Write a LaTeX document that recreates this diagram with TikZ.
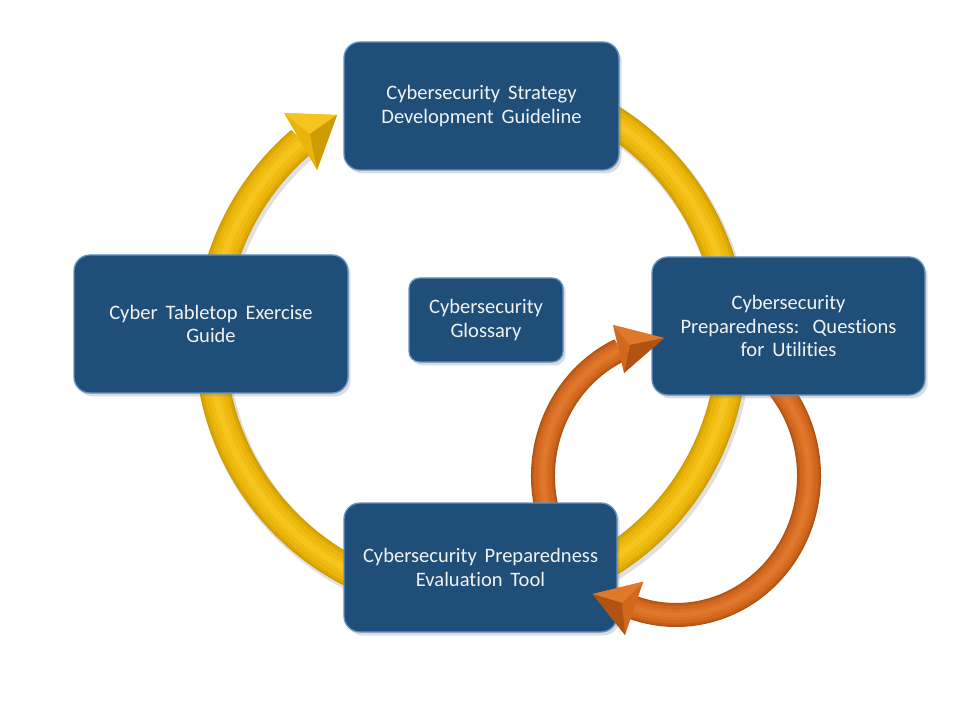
\documentclass[tikz,border=0pt]{standalone}
\usepackage{fontspec}
\setmainfont{Carlito}[WordSpace=1.7,Ligatures=NoCommon]
\usetikzlibrary{shadows,calc}
\definecolor{boxblue}{RGB}{31,78,121}
\definecolor{boxedge}{RGB}{96,146,196}
\definecolor{ytube}{RGB}{234,180,8}
\definecolor{ydark}{RGB}{206,156,0}
\definecolor{ylight}{RGB}{246,196,30}
\definecolor{otube}{RGB}{210,104,30}
\definecolor{odark}{RGB}{176,82,18}
\definecolor{olight}{RGB}{224,120,44}
\definecolor{txt}{RGB}{242,242,242}
\begin{document}
\begin{tikzpicture}[x=0.75pt,y=-0.75pt,
  card/.style={draw=boxedge, line width=1pt, fill=boxblue, rounded corners=12pt,
    inner sep=0pt, align=center, text=txt,
    font=\fontsize{15.4}{17.6}\selectfont,
    drop shadow={opacity=0.28, shadow xshift=2pt, shadow yshift=-2.5pt}},
  ylay1/.style={draw=ydark, line width=23.25pt},
  ylay2/.style={draw=ydark!50!ytube, line width=21pt},
  ylay3/.style={draw=ytube, line width=17pt},
  ylay4/.style={draw=ytube!50!ylight, line width=11pt},
  ylay5/.style={draw=ylight, line width=5pt},
  olay1/.style={draw=odark, line width=18pt},
  olay2/.style={draw=odark!50!otube, line width=16pt},
  olay3/.style={draw=otube, line width=13pt},
  olay4/.style={draw=otube!50!olight, line width=8pt},
  olay5/.style={draw=olight, line width=3.5pt},
  tubeshadow/.style={draw=black, opacity=0.12},
]
\useasboundingbox (0,0) rectangle (960,720);
\fill[white] (0,0) rectangle (960,720);

% ---- yellow cycle ----
\coordinate (yc) at (471,340);
\draw[tubeshadow, line width=25pt] ($(yc)+(-65:261)+(2,3)$) arc[start angle=-65, end angle=229.5, radius=261];
\foreach \s in {ylay1,ylay2,ylay3,ylay4,ylay5}
  \draw[\s] ($(yc)+(-65:261)$) arc[start angle=-65, end angle=229.5, radius=261];
\coordinate (ya) at (284,113);
\coordinate (yt) at (337,115);
\coordinate (yb) at (317,170);
\coordinate (ym) at (310,134);
\fill[ytube] (ya) -- (yt) -- (yb) -- cycle;
\fill[ylight] (ya) -- (yt) -- (ym) -- cycle;
\fill[ydark] (yt) -- (yb) -- (ym) -- cycle;

% ---- orange shafts ----
\coordinate (oc) at (676,476);
\foreach \s in {olay1,olay2,olay3,olay4,olay5}{
  \draw[\s] ($(oc)+({133*cos(160)},{139*sin(160)})$) arc[start angle=160, end angle=245, x radius=133, y radius=139];
  \draw[\s] ($(oc)+({133*cos(-50)},{139*sin(-50)})$) arc[start angle=-50, end angle=108.5, x radius=133, y radius=139];
}

% ---- boxes ----
\node[card, minimum width=206.25pt, minimum height=96pt] (strategy) at (481.5,106)
  {Cybersecurity Strategy\\Development Guideline};
\node[card, minimum width=205.5pt, minimum height=103.5pt] (tabletop) at (211,324)
  {Cyber Tabletop Exercise\\Guide};
\node[card, minimum width=204.75pt, minimum height=103.5pt] (questions) at (788.5,326)
  {Cybersecurity\\Preparedness:\hspace{0.65em}Questions\\for Utilities};
\node[card, minimum width=204.75pt, minimum height=96.75pt] (evaltool) at (480.5,567.5)
  {Cybersecurity Preparedness\\Evaluation Tool};
\node[card, rounded corners=8pt, minimum width=115.5pt, minimum height=63pt] (glossary) at (486,320)
  {Cybersecurity\\Glossary};

% ---- orange arrowheads (on top of boxes) ----
\coordinate (o1a) at (613,325);
\coordinate (o1t) at (664,338);
\coordinate (o1b) at (624,373);
\coordinate (o1m) at (630,345);
\fill[otube] (o1a) -- (o1t) -- (o1b) -- cycle;
\fill[olight] (o1a) -- (o1t) -- (o1m) -- cycle;
\fill[odark] (o1t) -- (o1b) -- (o1m) -- cycle;
\coordinate (o2a) at (643.3,581.7);
\coordinate (o2t) at (592.7,594);
\coordinate (o2b) at (625,635);
\coordinate (o2m) at (622,603);
\fill[otube] (o2a) -- (o2t) -- (o2b) -- cycle;
\fill[olight] (o2a) -- (o2t) -- (o2m) -- cycle;
\fill[odark] (o2t) -- (o2b) -- (o2m) -- cycle;
\end{tikzpicture}
\end{document}
